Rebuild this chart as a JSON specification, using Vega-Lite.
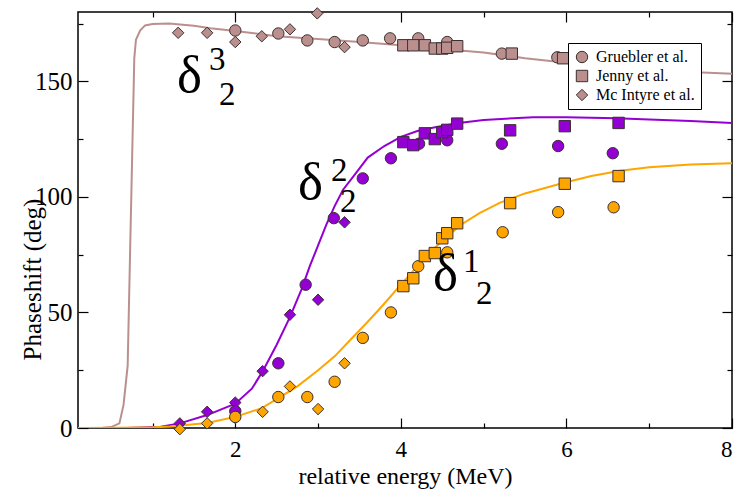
{
  "$schema": "https://vega.github.io/schema/vega-lite/v6.json",
  "width": 654,
  "height": 416,
  "autosize": {"type": "none"},
  "padding": {"left": 78, "top": 12, "right": 15, "bottom": 61},
  "background": "white",
  "config": {
    "font": "Liberation Serif",
    "view": {"stroke": "black", "strokeWidth": 1.5},
    "axis": {"grid": false, "domain": false, "tickColor": "black", "labelColor": "black", "titleColor": "black", "labelFont": "Liberation Serif", "titleFont": "Liberation Serif", "labelFontSize": 25, "titleFontSize": 25, "titleFontWeight": "normal", "tickWidth": 1.2}
  },
  "datasets": {
    "curves": [
      {"series": "d3", "x": 0.1, "y": 0}, {"series": "d3", "x": 0.4, "y": 0.1}, {"series": "d3", "x": 0.5, "y": 0.4}, {"series": "d3", "x": 0.6, "y": 2}, {"series": "d3", "x": 0.65, "y": 10}, {"series": "d3", "x": 0.7, "y": 27}, {"series": "d3", "x": 0.74, "y": 94}, {"series": "d3", "x": 0.78, "y": 160}, {"series": "d3", "x": 0.8, "y": 168}, {"series": "d3", "x": 0.85, "y": 172}, {"series": "d3", "x": 0.91, "y": 174.2}, {"series": "d3", "x": 1.0, "y": 174.8}, {"series": "d3", "x": 1.2, "y": 175}, {"series": "d3", "x": 1.5, "y": 174}, {"series": "d3", "x": 1.7, "y": 173}, {"series": "d3", "x": 2.0, "y": 171.8}, {"series": "d3", "x": 2.5, "y": 169.5}, {"series": "d3", "x": 3.0, "y": 168.3}, {"series": "d3", "x": 3.5, "y": 167}, {"series": "d3", "x": 4.0, "y": 165.6}, {"series": "d3", "x": 4.5, "y": 164}, {"series": "d3", "x": 5.0, "y": 162.5}, {"series": "d3", "x": 5.5, "y": 160}, {"series": "d3", "x": 6.0, "y": 158}, {"series": "d3", "x": 6.5, "y": 156.5}, {"series": "d3", "x": 7.0, "y": 155}, {"series": "d3", "x": 7.5, "y": 154}, {"series": "d3", "x": 8.0, "y": 153.3},
      {"series": "d2", "x": 0.7, "y": 0}, {"series": "d2", "x": 1.1, "y": 0.5}, {"series": "d2", "x": 1.33, "y": 2}, {"series": "d2", "x": 1.66, "y": 5.6}, {"series": "d2", "x": 2.0, "y": 10.5}, {"series": "d2", "x": 2.2, "y": 17}, {"series": "d2", "x": 2.33, "y": 24.5}, {"series": "d2", "x": 2.5, "y": 36}, {"series": "d2", "x": 2.66, "y": 48}, {"series": "d2", "x": 2.8, "y": 60}, {"series": "d2", "x": 2.9, "y": 70}, {"series": "d2", "x": 3.0, "y": 79}, {"series": "d2", "x": 3.1, "y": 88}, {"series": "d2", "x": 3.2, "y": 96}, {"series": "d2", "x": 3.3, "y": 103}, {"series": "d2", "x": 3.45, "y": 110}, {"series": "d2", "x": 3.6, "y": 117}, {"series": "d2", "x": 3.8, "y": 122}, {"series": "d2", "x": 4.0, "y": 126}, {"series": "d2", "x": 4.2, "y": 128.5}, {"series": "d2", "x": 4.4, "y": 130}, {"series": "d2", "x": 4.7, "y": 132}, {"series": "d2", "x": 5.0, "y": 133.3}, {"series": "d2", "x": 5.6, "y": 134.5}, {"series": "d2", "x": 6.0, "y": 134.5}, {"series": "d2", "x": 6.6, "y": 134}, {"series": "d2", "x": 7.0, "y": 133.5}, {"series": "d2", "x": 7.5, "y": 132.8}, {"series": "d2", "x": 8.0, "y": 132},
      {"series": "d1", "x": 0.1, "y": 0}, {"series": "d1", "x": 0.6, "y": 0.1}, {"series": "d1", "x": 1.0, "y": 0.3}, {"series": "d1", "x": 1.21, "y": 0.6}, {"series": "d1", "x": 1.66, "y": 2.2}, {"series": "d1", "x": 2.0, "y": 4.8}, {"series": "d1", "x": 2.32, "y": 8.6}, {"series": "d1", "x": 2.5, "y": 12.5}, {"series": "d1", "x": 2.75, "y": 18}, {"series": "d1", "x": 3.0, "y": 25}, {"series": "d1", "x": 3.2, "y": 31}, {"series": "d1", "x": 3.4, "y": 38.5}, {"series": "d1", "x": 3.6, "y": 46}, {"series": "d1", "x": 3.78, "y": 53}, {"series": "d1", "x": 4.0, "y": 62}, {"series": "d1", "x": 4.15, "y": 68}, {"series": "d1", "x": 4.35, "y": 76}, {"series": "d1", "x": 4.56, "y": 83}, {"series": "d1", "x": 4.75, "y": 88.5}, {"series": "d1", "x": 4.95, "y": 93}, {"series": "d1", "x": 5.2, "y": 97.5}, {"series": "d1", "x": 5.5, "y": 101.5}, {"series": "d1", "x": 5.96, "y": 106}, {"series": "d1", "x": 6.3, "y": 109}, {"series": "d1", "x": 6.65, "y": 111.3}, {"series": "d1", "x": 7.0, "y": 112.8}, {"series": "d1", "x": 7.5, "y": 114}, {"series": "d1", "x": 8.0, "y": 114.6}
    ],
    "points": [
      {"series": "d3", "ref": "Mc Intyre et al.", "x": 1.31, "y": 171}, {"series": "d3", "ref": "Mc Intyre et al.", "x": 1.66, "y": 171}, {"series": "d3", "ref": "Mc Intyre et al.", "x": 2.0, "y": 167}, {"series": "d3", "ref": "Mc Intyre et al.", "x": 2.32, "y": 169.5}, {"series": "d3", "ref": "Mc Intyre et al.", "x": 2.66, "y": 172.5}, {"series": "d3", "ref": "Mc Intyre et al.", "x": 2.99, "y": 179.4}, {"series": "d3", "ref": "Mc Intyre et al.", "x": 3.32, "y": 164.8},
      {"series": "d3", "ref": "Gruebler et al.", "x": 2.0, "y": 172}, {"series": "d3", "ref": "Gruebler et al.", "x": 2.52, "y": 170.7}, {"series": "d3", "ref": "Gruebler et al.", "x": 2.87, "y": 167.7}, {"series": "d3", "ref": "Gruebler et al.", "x": 3.2, "y": 167}, {"series": "d3", "ref": "Gruebler et al.", "x": 3.54, "y": 167.7}, {"series": "d3", "ref": "Gruebler et al.", "x": 3.87, "y": 168.6}, {"series": "d3", "ref": "Gruebler et al.", "x": 4.21, "y": 168.6}, {"series": "d3", "ref": "Gruebler et al.", "x": 4.56, "y": 167}, {"series": "d3", "ref": "Gruebler et al.", "x": 5.22, "y": 162}, {"series": "d3", "ref": "Gruebler et al.", "x": 5.89, "y": 160.4},
      {"series": "d3", "ref": "Jenny et al.", "x": 4.03, "y": 165.6}, {"series": "d3", "ref": "Jenny et al.", "x": 4.15, "y": 165.6}, {"series": "d3", "ref": "Jenny et al.", "x": 4.29, "y": 165.6}, {"series": "d3", "ref": "Jenny et al.", "x": 4.41, "y": 164.2}, {"series": "d3", "ref": "Jenny et al.", "x": 4.5, "y": 164.2}, {"series": "d3", "ref": "Jenny et al.", "x": 4.56, "y": 164.5}, {"series": "d3", "ref": "Jenny et al.", "x": 4.68, "y": 165.2}, {"series": "d3", "ref": "Jenny et al.", "x": 5.34, "y": 162}, {"series": "d3", "ref": "Jenny et al.", "x": 5.96, "y": 160},
      {"series": "d2", "ref": "Mc Intyre et al.", "x": 1.33, "y": 2}, {"series": "d2", "ref": "Mc Intyre et al.", "x": 1.66, "y": 7}, {"series": "d2", "ref": "Mc Intyre et al.", "x": 2.0, "y": 11}, {"series": "d2", "ref": "Mc Intyre et al.", "x": 2.33, "y": 24.6}, {"series": "d2", "ref": "Mc Intyre et al.", "x": 2.66, "y": 49}, {"series": "d2", "ref": "Mc Intyre et al.", "x": 3.0, "y": 55.5}, {"series": "d2", "ref": "Mc Intyre et al.", "x": 3.32, "y": 89},
      {"series": "d2", "ref": "Gruebler et al.", "x": 2.0, "y": 7.3}, {"series": "d2", "ref": "Gruebler et al.", "x": 2.52, "y": 28}, {"series": "d2", "ref": "Gruebler et al.", "x": 2.85, "y": 62}, {"series": "d2", "ref": "Gruebler et al.", "x": 3.19, "y": 90.8}, {"series": "d2", "ref": "Gruebler et al.", "x": 3.54, "y": 108}, {"series": "d2", "ref": "Gruebler et al.", "x": 3.88, "y": 116.7}, {"series": "d2", "ref": "Gruebler et al.", "x": 4.22, "y": 123}, {"series": "d2", "ref": "Gruebler et al.", "x": 4.56, "y": 124.5}, {"series": "d2", "ref": "Gruebler et al.", "x": 5.22, "y": 123}, {"series": "d2", "ref": "Gruebler et al.", "x": 5.9, "y": 122}, {"series": "d2", "ref": "Gruebler et al.", "x": 6.56, "y": 118.9},
      {"series": "d2", "ref": "Jenny et al.", "x": 4.03, "y": 123.7}, {"series": "d2", "ref": "Jenny et al.", "x": 4.15, "y": 122.4}, {"series": "d2", "ref": "Jenny et al.", "x": 4.29, "y": 127.5}, {"series": "d2", "ref": "Jenny et al.", "x": 4.41, "y": 125}, {"series": "d2", "ref": "Jenny et al.", "x": 4.5, "y": 128}, {"series": "d2", "ref": "Jenny et al.", "x": 4.56, "y": 129}, {"series": "d2", "ref": "Jenny et al.", "x": 4.68, "y": 131.7}, {"series": "d2", "ref": "Jenny et al.", "x": 5.32, "y": 128.8}, {"series": "d2", "ref": "Jenny et al.", "x": 5.98, "y": 130.6}, {"series": "d2", "ref": "Jenny et al.", "x": 6.63, "y": 132},
      {"series": "d1", "ref": "Mc Intyre et al.", "x": 1.33, "y": -0.5}, {"series": "d1", "ref": "Mc Intyre et al.", "x": 1.66, "y": 2}, {"series": "d1", "ref": "Mc Intyre et al.", "x": 2.0, "y": 4.3}, {"series": "d1", "ref": "Mc Intyre et al.", "x": 2.33, "y": 7}, {"series": "d1", "ref": "Mc Intyre et al.", "x": 2.66, "y": 18}, {"series": "d1", "ref": "Mc Intyre et al.", "x": 3.0, "y": 8.2}, {"series": "d1", "ref": "Mc Intyre et al.", "x": 3.32, "y": 28},
      {"series": "d1", "ref": "Gruebler et al.", "x": 2.0, "y": 4.8}, {"series": "d1", "ref": "Gruebler et al.", "x": 2.52, "y": 13.4}, {"series": "d1", "ref": "Gruebler et al.", "x": 2.87, "y": 13.4}, {"series": "d1", "ref": "Gruebler et al.", "x": 3.2, "y": 20}, {"series": "d1", "ref": "Gruebler et al.", "x": 3.54, "y": 39}, {"series": "d1", "ref": "Gruebler et al.", "x": 3.88, "y": 50}, {"series": "d1", "ref": "Gruebler et al.", "x": 4.21, "y": 70}, {"series": "d1", "ref": "Gruebler et al.", "x": 4.56, "y": 76}, {"series": "d1", "ref": "Gruebler et al.", "x": 5.23, "y": 84.7}, {"series": "d1", "ref": "Gruebler et al.", "x": 5.9, "y": 93.4}, {"series": "d1", "ref": "Gruebler et al.", "x": 6.57, "y": 95.5},
      {"series": "d1", "ref": "Jenny et al.", "x": 4.03, "y": 61.4}, {"series": "d1", "ref": "Jenny et al.", "x": 4.15, "y": 64.8}, {"series": "d1", "ref": "Jenny et al.", "x": 4.29, "y": 74.4}, {"series": "d1", "ref": "Jenny et al.", "x": 4.41, "y": 75.7}, {"series": "d1", "ref": "Jenny et al.", "x": 4.5, "y": 82.1}, {"series": "d1", "ref": "Jenny et al.", "x": 4.56, "y": 84.3}, {"series": "d1", "ref": "Jenny et al.", "x": 4.68, "y": 88.6}, {"series": "d1", "ref": "Jenny et al.", "x": 5.32, "y": 97.3}, {"series": "d1", "ref": "Jenny et al.", "x": 5.98, "y": 105.7}, {"series": "d1", "ref": "Jenny et al.", "x": 6.63, "y": 109}
    ],
    "deltas": [
      {"label": "δ", "x": 1.296, "y": 145.3}, {"label": "δ", "x": 2.758, "y": 99.0}, {"label": "δ", "x": 4.388, "y": 59.6}
    ],
    "digits": [
      {"label": "3", "x": 1.682, "y": 154.7}, {"label": "2", "x": 1.803, "y": 139.6},
      {"label": "2", "x": 3.157, "y": 106.8}, {"label": "2", "x": 3.266, "y": 93.4},
      {"label": "1", "x": 4.75, "y": 67.4}, {"label": "2", "x": 4.907, "y": 53.6}
    ]
  },
  "resolve": {"axis": {"x": "independent", "y": "independent"}},
  "layer": [
    {
      "data": {"name": "curves"},
      "mark": {"type": "line", "strokeWidth": 2, "clip": true},
      "encoding": {
        "x": {"field": "x", "type": "quantitative", "scale": {"domain": [0.1, 8], "nice": false, "zero": false}, "axis": {"orient": "bottom", "values": [2, 4, 6, 8], "tickSize": -10, "labelPadding": 20, "labelFontSize": 23, "title": "relative energy (MeV)", "titleFontSize": 24, "titleY": 55, "titleBaseline": "alphabetic"}},
        "y": {"field": "y", "type": "quantitative", "scale": {"domain": [0, 180], "nice": false}, "axis": {"orient": "left", "values": [0, 50, 100, 150], "tickSize": -10, "labelPadding": 16, "title": "Phaseshift (deg)", "titleX": -38, "titleY": 267, "titleAngle": -90, "titleAlign": "center", "titleBaseline": "alphabetic"}},
        "color": {"field": "series", "type": "nominal", "scale": {"domain": ["d3", "d2", "d1"], "range": ["#bc8f8f", "#9400d3", "#ffa500"]}, "legend": null},
        "detail": {"field": "series"}
      }
    },
    {
      "data": {"name": "points"},
      "mark": {"type": "point", "filled": true, "opacity": 1, "size": 130, "stroke": "#3a3030", "strokeWidth": 1},
      "encoding": {
        "x": {"field": "x", "type": "quantitative", "axis": {"orient": "top", "values": [2, 4, 6, 8], "tickSize": -10, "labels": false, "title": null}},
        "y": {"field": "y", "type": "quantitative", "axis": {"orient": "right", "values": [0, 50, 100, 150], "tickSize": -10, "labels": false, "title": null}},
        "color": {"field": "series", "type": "nominal", "legend": null},
        "shape": {"field": "ref", "type": "nominal", "scale": {"domain": ["Gruebler et al.", "Jenny et al.", "Mc Intyre et al."], "range": ["circle", "square", "diamond"]},
          "legend": {"title": null, "orient": "top-right", "offset": 31, "labelFont": "Liberation Serif", "labelFontSize": 16, "labelColor": "black", "symbolSize": 130, "symbolStrokeWidth": 1, "symbolStrokeColor": "#3a3030", "symbolFillColor": "#bc8f8f", "fillColor": "white", "strokeColor": "black", "padding": 6, "rowPadding": 3, "labelOffset": 6,
            "encode": {"symbols": {"update": {"fill": {"value": "#bc8f8f"}, "stroke": {"value": "#3a3030"}, "opacity": {"value": 1}}}}}}
      }
    },
    {
      "data": {"name": "deltas"},
      "mark": {"type": "text", "font": "Liberation Serif", "fontSize": 53, "align": "left", "baseline": "alphabetic", "color": "black"},
      "encoding": {
        "x": {"field": "x", "type": "quantitative", "axis": {"orient": "bottom", "values": [1, 3, 5, 7], "tickSize": -5, "labels": false, "title": null}},
        "y": {"field": "y", "type": "quantitative", "axis": {"orient": "left", "values": [25, 75, 125, 175], "tickSize": -5, "labels": false, "title": null}},
        "text": {"field": "label"}
      }
    },
    {
      "data": {"name": "digits"},
      "mark": {"type": "text", "font": "Liberation Serif", "fontSize": 33, "align": "left", "baseline": "alphabetic", "color": "black"},
      "encoding": {
        "x": {"field": "x", "type": "quantitative", "axis": {"orient": "top", "values": [1, 3, 5, 7], "tickSize": -5, "labels": false, "title": null}},
        "y": {"field": "y", "type": "quantitative", "axis": {"orient": "right", "values": [25, 75, 125, 175], "tickSize": -5, "labels": false, "title": null}},
        "text": {"field": "label"}
      }
    }
  ]
}
